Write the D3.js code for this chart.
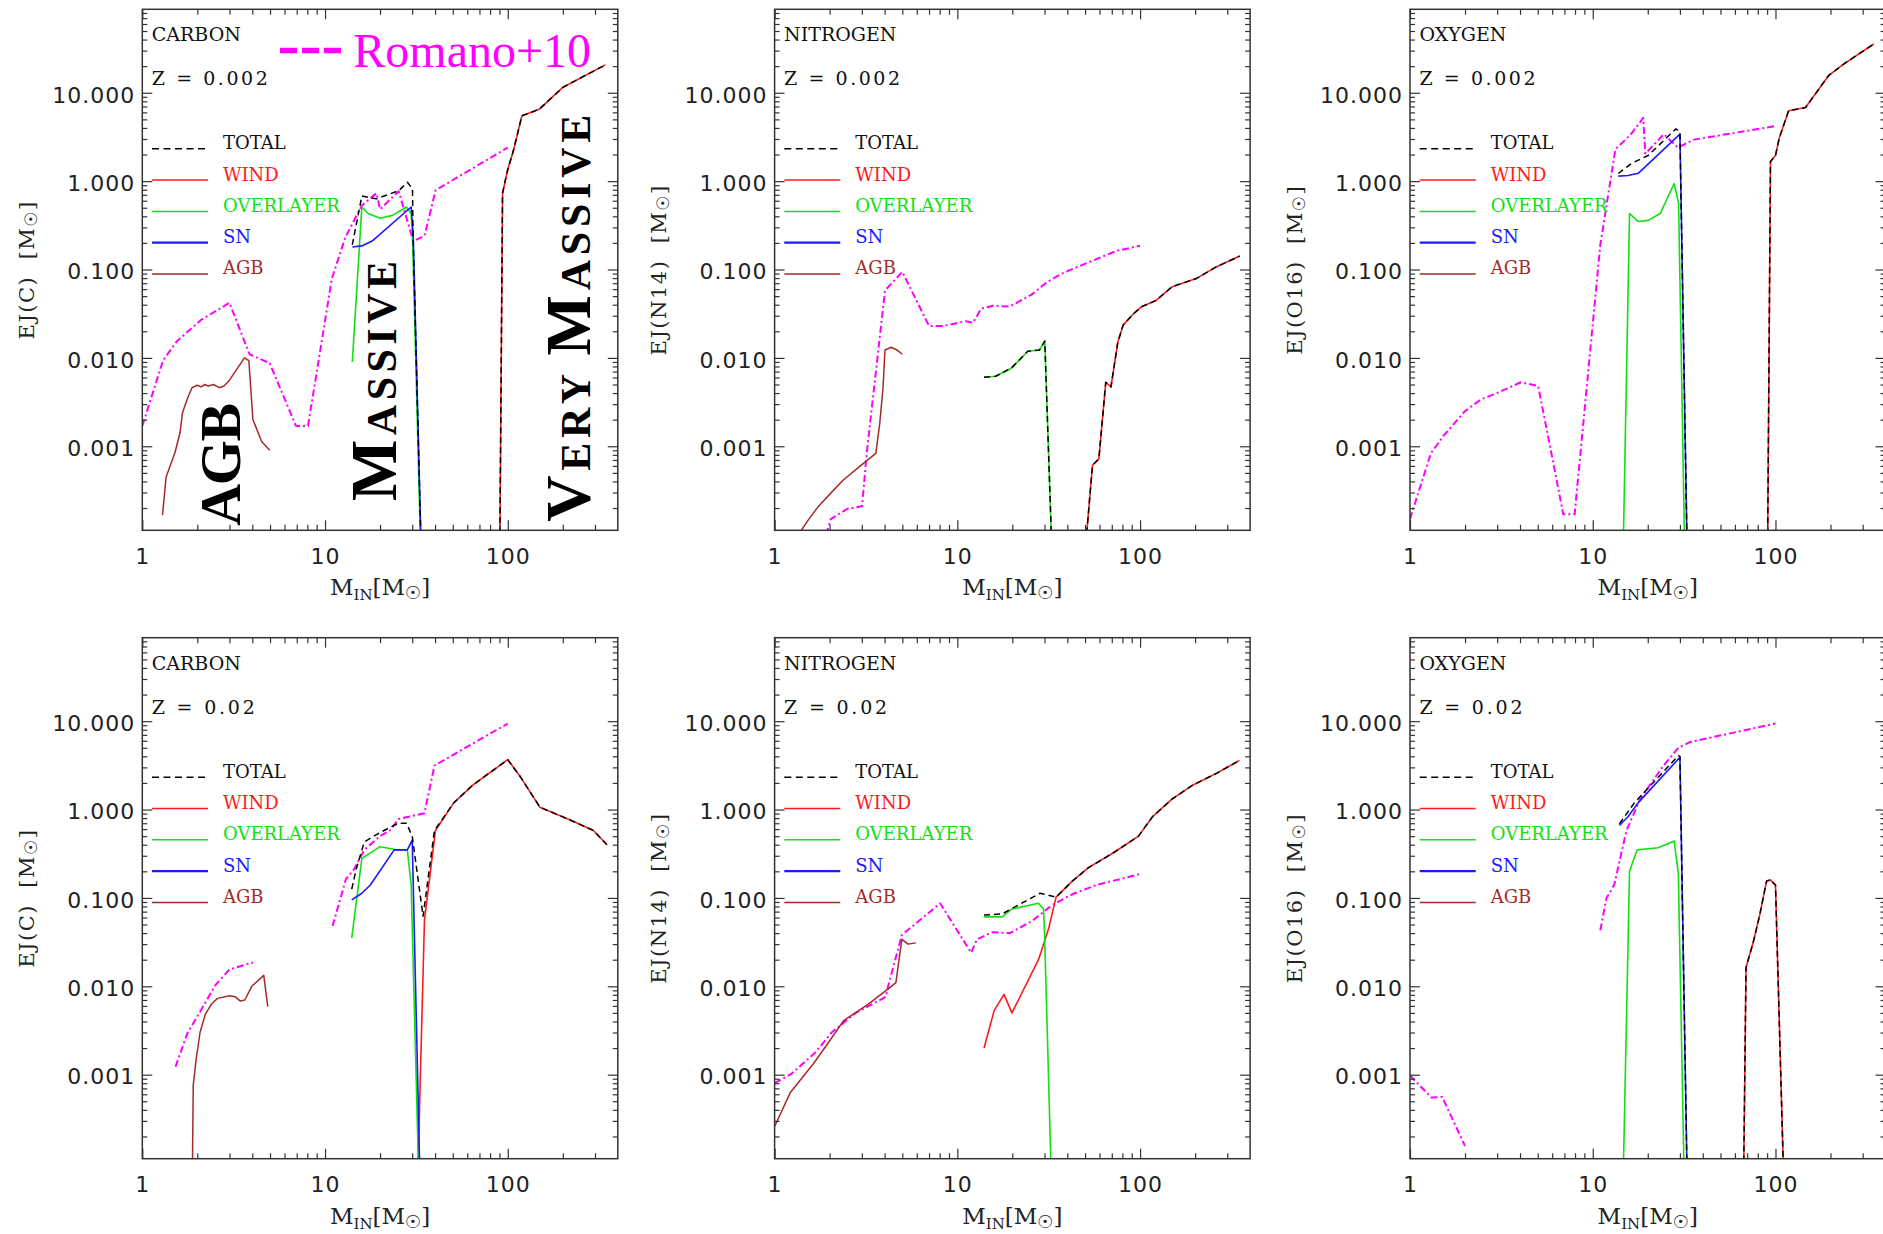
<!DOCTYPE html>
<html><head><meta charset="utf-8">
<script src="https://cdn.jsdelivr.net/npm/d3@7"></script>
<style>body{margin:0;background:#fff}svg{display:block}</style>
</head><body>
<svg id="c" width="1883" height="1234"></svg>
<script>
// ---------- tick values / labels ----------
const xMajor = [1, 10, 100];
const xMajorLabels = ["1", "10", "100"];
const xMinor = [2,3,4,5,6,7,8,9,20,30,40,50,60,70,80,90,200,300];
const yMajor = [0.001, 0.01, 0.1, 1, 10];
const yMajorLabels = ["0.001", "0.010", "0.100", "1.000", "10.000"];
const yMinor = [2e-4,3e-4,4e-4,5e-4,6e-4,7e-4,8e-4,9e-4,
  2e-3,3e-3,4e-3,5e-3,6e-3,7e-3,8e-3,9e-3,
  0.02,0.03,0.04,0.05,0.06,0.07,0.08,0.09,
  0.2,0.3,0.4,0.5,0.6,0.7,0.8,0.9,
  2,3,4,5,6,7,8,9,20,30,40,50,60,70,80];

const elementNames = ["CARBON", "NITROGEN", "OXYGEN", "CARBON", "NITROGEN", "OXYGEN"];
const yTitles = ["EJ(C)", "EJ(N14)", "EJ(O16)", "EJ(C)", "EJ(N14)", "EJ(O16)"];
const zLabels = ["Z = 0.002", "Z = 0.002", "Z = 0.002", "Z = 0.02", "Z = 0.02", "Z = 0.02"];
const legendNames = ["TOTAL", "WIND", "OVERLAYER", "SN", "AGB"];

// ---------- data: [initial mass, ejected mass]; null = gap ----------
// Carbon, Z = 0.002
const C002_total = [[14.1,0.19],[15.9,0.68],[19.1,0.63],[25.3,0.78],[28.2,0.97],[30.1,0.82],[30.3,0.25],[33.5,8e-5],null,
  [90.5,8e-5],[93.6,0.73],[100,1.36],[107,2.16],[119.5,5.5],[148.5,6.5],[200,11.5],[250,14.7],[342,20.7]];
const C002_wind = [[90.5,8e-5],[93.6,0.73],[100,1.36],[107,2.16],[119.5,5.5],[148.5,6.5],[200,11.5],[250,14.7],[342,20.7]];
const C002_overlayer = [[14.1,9.0e-3],[15.9,0.51],[17.2,0.43],[20,0.38],[23.4,0.41],[27.9,0.51],[29.6,0.43],[30.1,0.24],[33.3,8e-5]];
const C002_sn = [[14.1,0.18],[15.9,0.185],[18.1,0.21],[29.6,0.51],[30.4,0.24],[33.5,8e-5]];
const C002_agb = [[1.29,1.67e-4],[1.35,4.5e-4],[1.51,8.5e-4],[1.61,1.44e-3],[1.66,2.4e-3],[1.76,3.4e-3],[1.87,4.6e-3],[2.0,4.9e-3],
  [2.1,4.7e-3],[2.2,5.0e-3],[2.3,4.8e-3],[2.45,5.0e-3],[2.64,4.6e-3],[2.8,4.8e-3],[3.0,5.6e-3],[3.3,7.5e-3],[3.62,1.0e-2],
  [3.83,9.3e-3],[4.03,2.0e-3],[4.5,1.13e-3],[4.98,9.0e-4]];
const C002_romano = [[1,1.7e-3],[1.3,9.4e-3],[1.55,0.0155],[2.1,0.027],[3.0,0.042],[3.86,0.011],[4.98,8.7e-3],[6.93,1.7e-3],
  [8.07,1.7e-3],[10.9,0.079],[12.9,0.23],[15.9,0.53],[19.1,0.73],[20,0.48],[25.3,0.77],[30.4,0.21],[35,0.24],[40.3,0.79],[100,2.4]];

// Nitrogen, Z = 0.002
const N002_total = [[14.0,6.05e-3],[16.2,6.2e-3],[19.8,7.7e-3],[24.3,0.0119],[28.2,0.0123],[30.1,0.0155],[32.8,8e-5],null,
  [50.5,8e-5],[54.9,6.1e-4],[59.5,7.2e-4],[64.9,5.3e-3],[69.3,4.7e-3],[75.5,0.015],[80.8,0.0235],[91.2,0.031],[102,0.038],
  [122,0.0445],[150,0.064],[203,0.079],[261,0.107],[351,0.142]];
const N002_wind = [[50.5,8e-5],[54.9,6.1e-4],[59.5,7.2e-4],[64.9,5.3e-3],[69.3,4.7e-3],[75.5,0.015],[80.8,0.0235],[91.2,0.031],
  [102,0.038],[122,0.0445],[150,0.064],[203,0.079],[261,0.107],[351,0.142]];
const N002_overlayer = [[14.0,6.05e-3],[16.2,6.2e-3],[19.8,7.7e-3],[24.3,0.0119],[28.2,0.0123],[30.1,0.0155],[32.8,8e-5]];
const N002_sn = [];
const N002_agb = [[1.35,1.0e-4],[1.54,1.5e-4],[1.74,2.1e-4],[2.03,2.95e-4],[2.36,4.1e-4],[2.89,5.8e-4],[3.58,8.3e-4],[3.76,1.8e-3],
  [3.92,4.6e-3],[4.02,0.0123],[4.34,0.0132],[4.67,0.0123],[5.0,0.011]];
const N002_romano = [[1.91,1.0e-4],[2.03,1.5e-4],[2.49,1.95e-4],[3.01,2.1e-4],[3.2,8.7e-4],[4.02,0.058],[5.0,0.094],[7.0,0.023],
  [8.4,0.023],[11.1,0.026],[12.2,0.025],[13.5,0.036],[15.7,0.039],[19.3,0.038],[25.5,0.052],[31.2,0.073],[38.2,0.092],
  [54.6,0.125],[73.9,0.162],[100,0.186]];

// Oxygen, Z = 0.002
const O002_total = [[13.8,1.22],[16.4,1.6],[20.1,1.95],[28.5,3.9],[30,3.6],[32.8,8e-5],null,
  [90.6,8e-5],[93.9,1.67],[100,1.95],[105,3.1],[118,6.25],[146,6.8],[195,15.6],[235,21],[345,35.6]];
const O002_wind = [[90.6,8e-5],[93.9,1.67],[100,1.95],[105,3.1],[118,6.25],[146,6.8],[195,15.6],[235,21],[345,35.6]];
const O002_overlayer = [[14.7,8e-5],[15.9,0.43],[17.7,0.35],[20.1,0.36],[23.4,0.43],[27.9,0.94],[29.5,0.56],[31.8,8e-5]];
const O002_sn = [[13.8,1.14],[15.6,1.16],[17.8,1.23],[30.0,3.4],[32.8,8e-5]];
const O002_agb = [];
const O002_romano = [[1,1.5e-4],[1.30,8.3e-4],[1.52,1.3e-3],[2.0,2.5e-3],[2.45,3.4e-3],[3.0,4.0e-3],[4.04,5.3e-3],[5.03,4.8e-3],
  [6.9,1.7e-4],[7.96,1.7e-4],[11.0,0.19],[13.3,2.3],[16.0,3.3],[18.9,5.2],[19.4,2.05],[24.5,3.4],[29.2,2.4],[35.8,2.95],[100,4.2]];

// Carbon, Z = 0.02
const C02_total = [[14.0,0.126],[14.8,0.21],[16.4,0.43],[20,0.55],[25.2,0.70],[27.9,0.70],[30,0.50],[34.4,0.062],[39.7,0.58],
  [50.6,1.19],[64.3,1.89],[100,3.67],[118,2.3],[150,1.06],[223,0.75],[294,0.58],[349,0.40]];
const C02_wind = [[32.2,8e-5],[35,0.056],[40.2,0.58],[50.6,1.19],[64.3,1.89],[100,3.67],[118,2.3],[150,1.06],[223,0.75],[294,0.58],[349,0.40]];
const C02_overlayer = [[14.0,0.035],[15.9,0.28],[20,0.38],[24.6,0.35],[28.2,0.35],[29.6,0.14],[32.5,8e-5]];
const C02_sn = [[14.0,0.095],[15.9,0.113],[17.7,0.14],[23.9,0.35],[28.2,0.35],[30,0.45],[33,8e-5]];
const C02_agb = [[1.88,8e-5],[1.90,7.6e-4],[1.97,1.48e-3],[2.07,3.0e-3],[2.21,4.8e-3],[2.39,6.3e-3],[2.58,7.3e-3],[3.0,7.8e-3],
  [3.23,7.6e-3],[3.44,6.8e-3],[3.64,7.0e-3],[3.97,0.010],[4.62,0.0133],[4.86,5.9e-3]];
const C02_romano = [[1.52,1.23e-3],[1.76,2.9e-3],[2.03,4.8e-3],[2.51,0.0103],[3.0,0.0155],[4.03,0.0186],null,
  [11.0,0.048],[13.0,0.163],[14.4,0.21],[16.4,0.35],[20,0.5],[22.7,0.58],[25.2,0.78],[35,0.91],[39.7,3.15],[100,9.4]];

// Nitrogen, Z = 0.02
const N02_total = [[14.0,0.064],[17.6,0.066],[22,0.085],[28.4,0.113],[34.7,0.102],[42.6,0.155],[52.2,0.22],[70.8,0.32],
  [98,0.50],[117,0.83],[150,1.32],[195,1.9],[265,2.6],[350,3.6]];
const N02_wind = [[14.0,2.0e-3],[15.9,5.3e-3],[18.0,8.1e-3],[19.9,5.0e-3],[27.8,0.020],[31.6,0.045],[34.7,0.102],[42.6,0.155],
  [52.2,0.22],[70.8,0.32],[98,0.50],[117,0.83],[150,1.32],[195,1.9],[265,2.6],[350,3.6]];
const N02_overlayer = [[14.0,0.061],[17.6,0.061],[19.9,0.075],[27.8,0.087],[29.6,0.075],[30,0.041],[32.6,8e-5]];
const N02_sn = [];
const N02_agb = [[1,2.6e-4],[1.22,6.3e-4],[1.63,1.33e-3],[1.95,2.24e-3],[2.39,4.1e-3],[3.23,6.2e-3],[4.17,9.3e-3],[4.61,0.011],
  [4.97,0.034],[5.37,0.030],[5.93,0.031]];
const N02_romano = [[1,8.0e-4],[1.24,1.03e-3],[1.68,1.8e-3],[2.05,3.0e-3],[2.78,5.0e-3],[4.06,7.6e-3],[4.17,9.8e-3],[4.97,0.038],
  [8.05,0.087],[11.9,0.024],[12.8,0.034],[15.5,0.041],[19.4,0.040],[25.7,0.055],[33,0.083],[42.6,0.11],[57.5,0.14],[100,0.186]];

// Oxygen, Z = 0.02
const O02_total = [[14.0,0.69],[16.9,1.19],[29.4,4.07],[30,4.0],[32.8,8e-5],null,
  [67,8e-5],[69,0.0163],[76,0.033],[82.1,0.065],[89.4,0.155],[93.8,0.16],[100,0.14],[110.6,8e-5]];
const O02_wind = [[67,8e-5],[69,0.0163],[76,0.033],[82.1,0.065],[89.4,0.155],[93.8,0.16],[100,0.14],[110.6,8e-5]];
const O02_overlayer = [[14.7,8e-5],[15.9,0.2],[17.5,0.35],[20.1,0.36],[22.8,0.37],[27.9,0.44],[29.4,0.19],[31.6,8e-5]];
const O02_sn = [[14,0.66],[15.6,0.83],[17.7,1.19],[30,3.9],[32.8,8e-5]];
const O02_agb = [];
const O02_romano = [[1,9.8e-4],[1.31,5.5e-4],[1.50,5.6e-4],[2.0,1.56e-4],null,
  [11.0,0.043],[11.9,0.10],[13.1,0.14],[15.3,0.58],[18.2,1.32],[24.0,3.0],[29.4,5.0],[34.0,5.8],[100,9.4]];

// ---------- panel table built from the arrays ----------
const panelSeries = [
  {total:C002_total, wind:C002_wind, overlayer:C002_overlayer, sn:C002_sn, agb:C002_agb, romano:C002_romano},
  {total:N002_total, wind:N002_wind, overlayer:N002_overlayer, sn:N002_sn, agb:N002_agb, romano:N002_romano},
  {total:O002_total, wind:O002_wind, overlayer:O002_overlayer, sn:O002_sn, agb:O002_agb, romano:O002_romano},
  {total:C02_total, wind:C02_wind, overlayer:C02_overlayer, sn:C02_sn, agb:C02_agb, romano:C02_romano},
  {total:N02_total, wind:N02_wind, overlayer:N02_overlayer, sn:N02_sn, agb:N02_agb, romano:N02_romano},
  {total:O02_total, wind:O02_wind, overlayer:O02_overlayer, sn:O02_sn, agb:O02_agb, romano:O02_romano}
];

// ---------- layout & style ----------
const colLeft = [142.3, 774.6, 1410];
const rowTop = [9.3, 637.7];
const W = 475.5, H = 521;
const xDomain = [1, 400];
const yDomain = [1.12e-4, 88];
const AX = "#333";
const styles = {
  romano:   {color:"#ff00ff", width:2,   dash:"7,3,2,3"},
  agb:      {color:"#a52a2a", width:1.5, dash:null},
  wind:     {color:"#ff1a1a", width:1.6, dash:null},
  overlayer:{color:"#11e011", width:1.6, dash:null},
  sn:       {color:"#1a1aff", width:1.6, dash:null},
  total:    {color:"#000000", width:1.5, dash:"6,4"}
};
const legendKeys = ["total","wind","overlayer","sn","agb"];
const legendWidths = [1.5, 1.5, 1.5, 2.2, 1.5];
const serif = "'DejaVu Serif', 'DejaVu Sans', serif";
const sans = "'DejaVu Sans', sans-serif";

const svg = d3.select("#c");

panelSeries.forEach((series, i) => {
  const col = i % 3, row = Math.floor(i / 3);
  const g = svg.append("g").attr("transform", `translate(${colLeft[col]},${rowTop[row]})`);
  const x = d3.scaleLog().domain(xDomain).range([0, W]);
  const y = d3.scaleLog().domain(yDomain).range([H, 0]);

  const clipId = "clip" + i;
  g.append("clipPath").attr("id", clipId).append("rect").attr("width", W).attr("height", H);
  const plot = g.append("g").attr("clip-path", `url(#${clipId})`);
  const line = d3.line().defined(d => d != null).x(d => x(d[0])).y(d => y(d[1]));

  ["romano","agb","wind","overlayer","sn","total"].forEach(k => {
    const data = series[k];
    if (!data.length) return;
    const st = styles[k];
    plot.append("path").datum(data).attr("d", line)
      .attr("fill", "none").attr("stroke", st.color).attr("stroke-width", st.width)
      .attr("stroke-linejoin", "round")
      .attr("stroke-dasharray", st.dash);
  });

  // axes
  const styleAxis = sel => {
    sel.select(".domain").remove();
    sel.selectAll(".tick line").attr("stroke", AX).attr("stroke-width", 1.2);
    sel.selectAll(".tick text").attr("fill", "#222").attr("font-family", sans)
      .attr("font-size", 22).attr("letter-spacing", 1.0);
  };
  g.append("g").attr("transform", `translate(0,${H})`)
    .call(d3.axisBottom(x).tickValues(xMajor).tickSize(-10).tickPadding(18)
      .tickFormat((d, j) => xMajorLabels[j])).call(styleAxis);
  g.append("g").attr("transform", `translate(0,${H})`)
    .call(d3.axisBottom(x).tickValues(xMinor).tickSize(-5.5).tickFormat("")).call(styleAxis);
  g.append("g").call(d3.axisTop(x).tickValues(xMajor).tickSize(-10).tickFormat("")).call(styleAxis);
  g.append("g").call(d3.axisTop(x).tickValues(xMinor).tickSize(-5.5).tickFormat("")).call(styleAxis);
  g.append("g")
    .call(d3.axisLeft(y).tickValues(yMajor).tickSize(-10).tickPadding(7)
      .tickFormat((d, j) => yMajorLabels[j])).call(styleAxis)
    .selectAll(".tick text").attr("dy", "0.42em");
  g.append("g").call(d3.axisLeft(y).tickValues(yMinor).tickSize(-5).tickFormat("")).call(styleAxis);
  g.append("g").attr("transform", `translate(${W},0)`)
    .call(d3.axisRight(y).tickValues(yMajor).tickSize(-10).tickFormat("")).call(styleAxis);
  g.append("g").attr("transform", `translate(${W},0)`)
    .call(d3.axisRight(y).tickValues(yMinor).tickSize(-5).tickFormat("")).call(styleAxis);

  g.append("rect").attr("width", W).attr("height", H).attr("fill", "none")
    .attr("stroke", AX).attr("stroke-width", 1.5);

  // panel labels
  g.append("text").attr("x", 9.5).attr("y", 32).attr("font-family", serif).attr("font-size", 19)
    .attr("fill", "#111").text(elementNames[i]);
  g.append("text").attr("x", 9.5).attr("y", 76).attr("font-family", serif).attr("font-size", 19)
    .attr("fill", "#111").attr("textLength", row === 0 ? 116 : 103).attr("lengthAdjust", "spacing")
    .text(zLabels[i]);

  // legend
  legendNames.forEach((name, j) => {
    const k = legendKeys[j], st = styles[k];
    const by = 140 + j * 31.3;
    g.append("line").attr("x1", 9.7).attr("x2", 65.7).attr("y1", by - 0.5).attr("y2", by - 0.5)
      .attr("stroke", st.color).attr("stroke-width", legendWidths[j])
      .attr("stroke-dasharray", k === "total" ? "7,4.5" : null);
    g.append("text").attr("x", 80.7).attr("y", by).attr("font-family", serif).attr("font-size", 18)
      .attr("fill", k === "total" ? "#111" : st.color).text(name);
  });

  // y title
  const yt = g.append("text").attr("transform", `translate(-108.5,${H / 2}) rotate(-90)`)
    .attr("text-anchor", "middle").attr("font-family", serif).attr("font-size", 21)
    .attr("letter-spacing", 1.5).attr("fill", "#222").attr("xml:space", "preserve");
  yt.append("tspan").text(yTitles[i] + "  [M");
  yt.append("tspan").attr("font-size", 17).attr("dy", 3).text("\u2609");
  yt.append("tspan").attr("dy", -3).text("]");

  // x title
  const xt = g.append("text").attr("x", W / 2).attr("y", H + 65).attr("text-anchor", "middle")
    .attr("font-family", serif).attr("font-size", 23).attr("fill", "#222");
  xt.append("tspan").text("M");
  xt.append("tspan").attr("font-size", 15).attr("dy", 5).text("IN");
  xt.append("tspan").attr("dy", -5).text("[M");
  xt.append("tspan").attr("font-size", 18).attr("dy", 4).text("\u2609");
  xt.append("tspan").attr("dy", -4).text("]");

  if (i === 0) {
    // Romano+10 key
    g.append("line").attr("x1", 137.7).attr("x2", 199).attr("y1", 41.3).attr("y2", 41.3)
      .attr("stroke", "#ff00ff").attr("stroke-width", 5.5).attr("stroke-dasharray", "17,5");
    g.append("text").attr("x", 211).attr("y", 57.7).attr("font-family", "'Liberation Serif', serif")
      .attr("font-size", 48).attr("fill", "#ff00ff").text("Romano+10");

    const big = (bx, sy, len, parts) => {
      const t = g.append("text").attr("transform", `translate(${bx},${sy}) rotate(-90)`)
        .attr("font-family", "'Liberation Serif', serif").attr("font-weight", "bold").attr("fill", "#000")
        .attr("textLength", len).attr("lengthAdjust", "spacing").attr("xml:space", "preserve");
      parts.forEach(p => t.append("tspan").attr("font-size", p[1]).text(p[0]));
    };
    big(97.7, 516.4, 123, [["AGB", 58]]);
    big(253.3, 491.7, 240, [["M", 65], ["ASSIVE", 42]]);
    big(448.1, 512.4, 407, [["V", 64], ["ERY ", 42], ["M", 64], ["ASSIVE", 42]]);
  }
});
</script>
</body></html>
